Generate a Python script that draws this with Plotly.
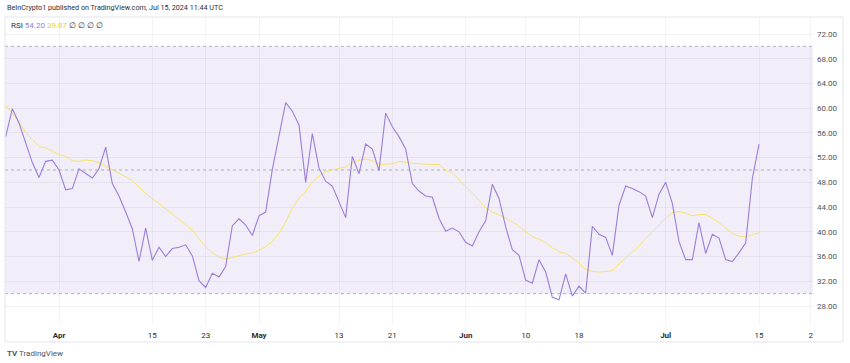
import pandas as pd
import plotly.graph_objects as go

# ---------------- data ----------------
start_date = "2024-03-24"
rsi = [55.4, 59.9, 57.6, 54.3, 51.2, 48.8, 51.4, 51.6,
       50.0, 46.8, 47.0, 50.2, 49.5, 48.7, 50.2, 53.7, 47.8, 45.8,
       43.2, 40.5, 35.2, 40.6, 35.4, 37.5, 36.0, 37.3, 37.5, 37.9,
       36.1, 32.1, 31.0, 33.3, 32.7, 34.4, 41.0, 42.1, 41.1, 39.4,
       42.6, 43.2, 50.1, 55.4, 60.9, 59.5, 57.3, 48.0, 55.9, 50.3,
       48.2, 47.4, 44.9, 42.3, 52.2, 49.4, 54.2, 53.4, 49.9, 59.2,
       57.0, 55.4, 53.4, 47.8, 46.6, 45.8, 45.6, 42.2, 40.1, 40.6,
       40.0, 38.3, 37.7, 40.0, 41.8, 47.7, 45.4, 40.8, 37.1, 36.2,
       32.2, 31.7, 35.5, 33.5, 29.4, 29.0, 33.2, 29.6, 31.2, 30.1,
       40.9, 39.6, 39.1, 36.2, 44.3, 47.4, 47.0, 46.5, 45.8, 42.3,
       46.1, 48.0, 44.6, 38.4, 35.5, 35.5, 41.5, 36.5, 39.6, 39.0,
       35.5, 35.2, 36.6, 38.2, 48.6, 54.2]
rsi_ma = [60.4, 59.2, 57.7, 56.1, 54.9, 53.8, 53.6, 53.0,
          52.5, 52.2, 51.5, 51.4, 51.6, 51.5, 51.2, 50.6, 50.1, 49.5,
          48.9, 48.3, 47.2, 46.3, 45.3, 44.6, 43.8, 42.9, 42.0, 41.2,
          40.3, 38.9, 37.6, 36.6, 35.9, 35.6, 35.9, 36.1, 36.4, 36.6,
          37.0, 37.6, 38.5, 39.7, 41.6, 43.8, 45.4, 46.5, 48.1, 49.0,
          49.7, 50.0, 50.2, 50.5, 51.2, 51.6, 51.8, 51.5, 50.9, 50.9,
          51.0, 51.4, 51.2, 51.1, 51.0, 50.9, 50.9, 50.9, 50.0, 49.5,
          48.5, 47.3, 46.3, 45.1, 43.9, 43.2, 42.8, 42.3, 41.6, 40.9,
          40.0, 39.2, 38.8, 38.3, 37.4, 36.8, 36.5, 35.7, 35.0, 33.9,
          33.6, 33.5, 33.6, 33.7, 34.8, 35.8, 36.8, 37.7, 38.9, 40.0,
          41.0, 42.2, 43.1, 43.3, 43.0, 42.6, 42.8, 42.8, 42.2, 41.5,
          40.6, 39.8, 39.3, 39.2, 39.5, 39.87]
dates = pd.date_range(start_date, periods=len(rsi), freq="D")

x_tick_vals = ["2024-04-01", "2024-04-15", "2024-04-23", "2024-05-01", "2024-05-13",
               "2024-05-21", "2024-06-01", "2024-06-10", "2024-06-18", "2024-07-01",
               "2024-07-15", "2024-07-22 18:00"]
x_tick_text = ["<b>Apr</b>", "15", "23", "<b>May</b>", "13", "21", "<b>Jun</b>", "10",
               "18", "<b>Jul</b>", "15", "2"]
y_tick_vals = [28, 32, 36, 40, 44, 48, 52, 56, 60, 64, 68, 72]
y_tick_text = [f"{v:.2f}" for v in y_tick_vals]
band_levels = [30, 50, 70]

RSI_COLOR = "#9a7ed8"
MA_COLOR = "#f7e36a"
FONT = "Roboto"

fig = go.Figure()
fig.add_trace(go.Scatter(x=dates, y=rsi_ma, mode="lines",
                         line=dict(color=MA_COLOR, width=1), hoverinfo="skip"))
fig.add_trace(go.Scatter(x=dates, y=rsi, mode="lines",
                         line=dict(color=RSI_COLOR, width=1.1), hoverinfo="skip"))

# band fill
fig.add_shape(type="rect", xref="paper", yref="y", x0=0, x1=1,
              y0=band_levels[0], y1=band_levels[-1],
              fillcolor="rgba(126,87,194,0.1)", line=dict(width=0), layer="below")
for lv in band_levels:
    fig.add_shape(type="line", xref="paper", yref="y", x0=0, x1=1, y0=lv, y1=lv,
                  line=dict(color="rgba(120,123,134,0.55)", width=1, dash="3px,3px"),
                  layer="between")

# outer border of chart
fig.add_shape(type="rect", xref="paper", yref="paper", x0=0, x1=1.0371,
              y0=-0.0552, y1=1, line=dict(color="#e3e5eb", width=1),
              fillcolor="rgba(0,0,0,0)", layer="above")

x_left = pd.Timestamp("2024-04-01") + pd.Timedelta(days=-8.1)
x_right = pd.Timestamp("2024-04-01") + pd.Timedelta(days=113.1)

fig.update_layout(
    template="none",
    width=850, height=363,
    margin=dict(l=5, r=37, t=17, b=38, autoexpand=False),
    paper_bgcolor="white", plot_bgcolor="white",
    showlegend=False, hovermode=False,
    font=dict(family=FONT, size=8, color="#333"),
    xaxis=dict(range=[x_left, x_right], tickmode="array", tickvals=x_tick_vals,
               ticktext=x_tick_text, showgrid=True, gridcolor="rgba(42,46,57,0.05)",
               zeroline=False, showline=False, ticks="", automargin=False,
               ticklabelstandoff=4,
               tickfont=dict(family=FONT, size=8, color="#2a2e39")),
    yaxis=dict(range=[24.93, 74.75], side="right", tickmode="array",
               tickvals=y_tick_vals, ticktext=y_tick_text, showgrid=True,
               gridcolor="rgba(42,46,57,0.06)", zeroline=False, showline=False,
               ticks="", ticklabelstandoff=3, automargin=False,
               tickfont=dict(family=FONT, size=8, color="#50535e")),
)

fig.add_annotation(xref="paper", yref="paper", x=0.0, y=1.0,
                   yshift=3, xanchor="left", yanchor="bottom",
                   text="BeInCrypto1 published on TradingView.com, Jul 15, 2024 11:44 UTC",
                   showarrow=False, font=dict(family=FONT, size=7.2, color="#2a2e39"))
fig.add_annotation(xref="paper", yref="paper", x=0.005, y=1.0, yshift=-2,
                   xanchor="left", yanchor="top",
                   text=(f"RSI <span style='color:{RSI_COLOR}'>{rsi[-1]:.2f}</span> "
                         f"<span style='color:#e8cf2e'>{rsi_ma[-1]:.2f}</span> ∅ ∅ ∅ ∅"),
                   showarrow=False, font=dict(family=FONT, size=8, color="#2a2e39"))
fig.add_annotation(xref="paper", yref="paper", x=0.0, y=-0.07, xanchor="left",
                   yanchor="top", text="<b>TV</b> TradingView", showarrow=False,
                   font=dict(family=FONT, size=8, color="#50535e"))

fig.write_html("out.html", config={"displayModeBar": False},
               post_script="document.body.style.margin='0';")
